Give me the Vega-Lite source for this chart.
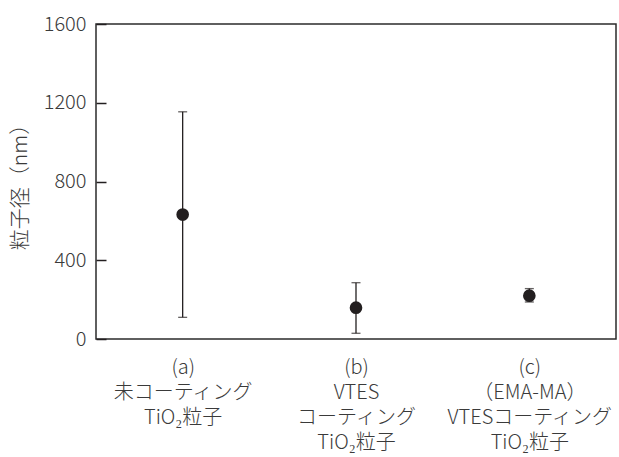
{
  "$schema": "https://vega.github.io/schema/vega-lite/v6.json",
  "width": 520,
  "height": 315,
  "autosize": {"type": "none"},
  "padding": {"left": 96, "top": 24, "right": 3, "bottom": 118},
  "background": "white",
  "config": {
    "font": "Noto Sans CJK JP",
    "view": {"stroke": "#2b2b2b", "strokeWidth": 1.5, "fill": "transparent"},
    "axis": {"grid": false, "domain": false, "labelColor": "#3a3a3a", "titleColor": "#3a3a3a", "labelFont": "Noto Sans CJK JP", "titleFont": "Noto Sans CJK JP", "titleFontWeight": 300, "labelFontWeight": 300}
  },
  "data": {
    "values": [
      {"sample": "(a)|未コーティング|TiO₂粒子", "mean": 632, "low": 110, "high": 1154},
      {"sample": "(b)|VTES|コーティング|TiO₂粒子", "mean": 159, "low": 29, "high": 286},
      {"sample": "(c)|（EMA-MA）|VTESコーティング|TiO₂粒子", "mean": 220, "low": 188, "high": 256}
    ]
  },
  "encoding": {
    "x": {
      "field": "sample",
      "type": "nominal",
      "sort": null,
      "scale": {"type": "point", "padding": 0.5},
      "axis": {
        "title": null,
        "ticks": false,
        "labelAngle": 0,
        "labelExpr": "split(datum.value, '|')",
        "labelFontSize": 20,
        "labelLineHeight": 25,
        "labelPadding": 18,
        "labelBaseline": "top"
      }
    }
  },
  "layer": [
    {
      "mark": {"type": "rule", "color": "#231f20", "strokeWidth": 1.3},
      "encoding": {
        "y": {"field": "low", "type": "quantitative", "scale": {"domain": [0, 1600]},
          "axis": {"title": "粒子径（nm）", "values": [0, 400, 800, 1200, 1600], "format": "d", "zindex": 1, "ticks": true, "tickSize": -10, "tickColor": "#231f20", "tickWidth": 1.5, "labelFontSize": 20, "labelPadding": 20, "titleFontSize": 21, "titlePadding": 13}},
        "y2": {"field": "high"}
      }
    },
    {
      "mark": {"type": "tick", "color": "#231f20", "orient": "horizontal", "size": 9, "thickness": 1.3},
      "encoding": {"y": {"field": "low", "type": "quantitative"}}
    },
    {
      "mark": {"type": "tick", "color": "#231f20", "orient": "horizontal", "size": 9, "thickness": 1.3},
      "encoding": {"y": {"field": "high", "type": "quantitative"}}
    },
    {
      "mark": {"type": "point", "filled": true, "shape": "circle", "size": 160, "color": "#231f20", "opacity": 1},
      "encoding": {"y": {"field": "mean", "type": "quantitative"}}
    }
  ]
}
